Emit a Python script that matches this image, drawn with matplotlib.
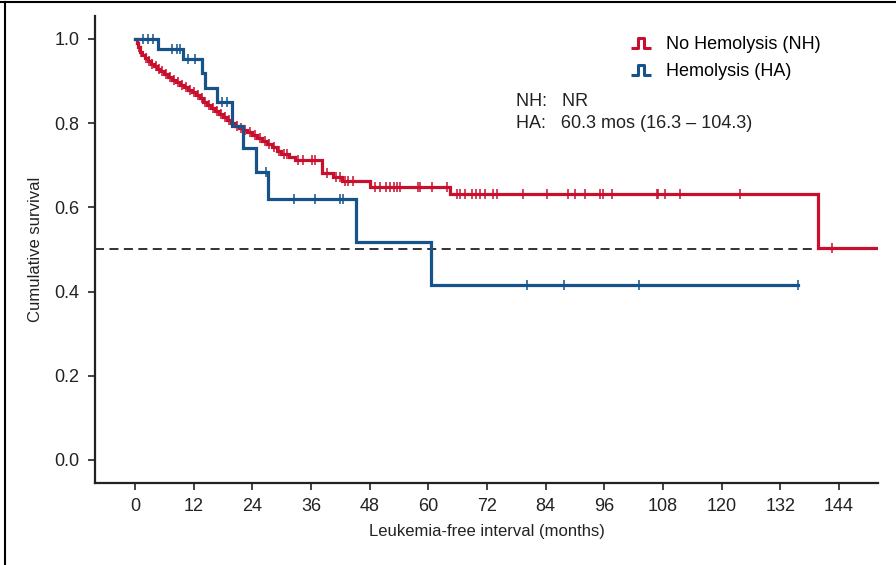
import matplotlib
matplotlib.use("Agg")
import matplotlib.pyplot as plt
from matplotlib.lines import Line2D
from matplotlib.path import Path
from matplotlib import font_manager

# --- Datos ---
# No Hemolysis (NH): tiempos de evento y supervivencia tras cada caida
nh_times = [0.3, 0.6, 1.0, 1.5, 2.0, 2.6, 3.2, 3.8, 4.5, 5.2, 6.0, 6.8, 7.6, 8.4,
            9.2, 10.0, 10.8, 11.6, 12.4, 13.2, 14.0, 14.8, 15.6, 16.4, 17.2, 18.0,
            18.8, 19.6, 20.4, 21.2, 22.0, 23.0, 24.0, 25.0, 26.0, 27.0, 28.0, 29.0,
            29.8, 31.5, 32.7, 38.2, 40.5, 42.3, 48.1, 64.4, 139.7]
nh_surv = [0.990, 0.980, 0.970, 0.962, 0.955, 0.948, 0.941, 0.935, 0.929, 0.923,
           0.917, 0.910, 0.903, 0.897, 0.891, 0.885, 0.879, 0.873, 0.866, 0.859,
           0.851, 0.843, 0.835, 0.828, 0.821, 0.814, 0.807, 0.800, 0.794, 0.789,
           0.784, 0.778, 0.771, 0.765, 0.758, 0.751, 0.744, 0.735, 0.726, 0.720,
           0.713, 0.682, 0.672, 0.663, 0.648, 0.632, 0.504]
nh_end = 152
nh_censor = [0.8, 1.3, 2.3, 2.9, 3.5, 4.2, 4.9, 5.6, 6.4, 7.2, 8.0, 8.8, 9.6, 10.4,
             11.2, 12.0, 12.8, 13.6, 14.4, 15.2, 16.0, 16.8, 17.6, 18.4, 19.2, 20.0,
             20.8, 21.6, 22.5, 23.5, 24.5, 25.5, 26.5, 27.5, 28.5, 29.4, 30.5, 31.0,
             33.4, 34.4, 36.2, 36.8, 39.2, 41.2, 41.9, 43.0, 43.6, 44.6,
             49.1, 50.1, 51.3, 52.2, 53.0, 53.5, 54.1, 57.9, 58.3, 60.7, 63.8,
             65.8, 66.5, 67.4, 68.9, 69.8, 70.6, 71.6, 73.3, 74.0, 79.4, 84.2, 88.6,
             90.0, 92.0, 95.1, 95.7, 97.5, 106.7, 107.0, 108.4, 111.5, 123.7, 142.6]

# Hemolysis (HA)
ha_times = [4.7, 9.8, 13.7, 14.3, 16.8, 19.8, 22.1, 24.7, 27.2, 45.1, 60.5]
ha_surv = [0.976, 0.952, 0.919, 0.884, 0.850, 0.794, 0.740, 0.684, 0.621, 0.518, 0.416]
ha_end = 135.6
ha_censor = [1.6, 2.7, 3.7, 7.6, 8.6, 9.2, 10.8, 12.3, 17.8, 18.8, 26.8,
             32.5, 36.8, 41.9, 42.5, 80.2, 87.7, 103.1, 135.6]

x_ticks = list(range(0, 145, 12))
y_ticks = [0.0, 0.2, 0.4, 0.6, 0.8, 1.0]

red = "#C8102E"
blue = "#15538A"

installed = {f.name for f in font_manager.fontManager.ttflist}
narrow = "Liberation Sans Narrow" if "Liberation Sans Narrow" in installed else "Liberation Sans"
plt.rcParams['font.family'] = ['Liberation Sans', 'DejaVu Sans']


def step_xy(times, surv, end):
    xs, ys = [0.0], [1.0]
    cur = 1.0
    for t, s in zip(times, surv):
        xs += [t, t]
        ys += [cur, s]
        cur = s
    xs.append(end)
    ys.append(cur)
    return xs, ys


def surv_at(times, surv, t):
    cur = 1.0
    for tt, s in zip(times, surv):
        if tt <= t:
            cur = s
    return cur


fig = plt.figure(figsize=(8.96, 5.65), dpi=100)
ax = fig.add_axes([0.106, 0.145, 0.874, 0.827])

ax.axhline(0.5, color="#222222", lw=1.3, ls=(0, (5, 3)), zorder=1)

for times, surv, end, cens, col in [(nh_times, nh_surv, nh_end, nh_censor, red),
                                     (ha_times, ha_surv, ha_end, ha_censor, blue)]:
    xs, ys = step_xy(times, surv, end)
    ax.plot(xs, ys, color=col, lw=2.3, solid_joinstyle="miter", zorder=3)
    cy = [surv_at(times, surv, c) for c in cens]
    ax.plot(cens, cy, ls="none", marker="|", ms=7, mew=1.1, color=col, zorder=3)

ax.set_xlim(-8.2, 152)
ax.set_ylim(-0.055, 1.055)
ax.set_xticks(x_ticks)
ax.set_yticks(y_ticks)
ax.set_yticklabels([f"{v:.1f}" for v in y_ticks])
ax.tick_params(direction="out", length=5, width=1.2, labelsize=13, colors="#222222", pad=6)
for side in ["top", "right"]:
    ax.spines[side].set_visible(False)
for side in ["left", "bottom"]:
    ax.spines[side].set_linewidth(1.6)
    ax.spines[side].set_color("#222222")

ax.set_xlabel("Leukemia-free interval (months)", fontsize=12, family=narrow, color="#222222", labelpad=6)
ax.set_ylabel("Cumulative survival", fontsize=12, family=narrow, color="#222222", labelpad=8)

# icono escalonado de la leyenda
step_icon = Path([(-1, -0.5), (-0.35, -0.5), (-0.35, 0.5), (0.35, 0.5), (0.35, -0.5), (1, -0.5)])
handles = [Line2D([], [], ls="none", marker=step_icon, ms=14, mew=2.2, mfc="none", mec=red),
           Line2D([], [], ls="none", marker=step_icon, ms=14, mew=2.2, mfc="none", mec=blue)]
ax.legend(handles, ["No Hemolysis (NH)", "Hemolysis (HA)"], loc="upper left",
          bbox_to_anchor=(0.683, 0.957), borderaxespad=0, borderpad=0, frameon=False,
          fontsize=13, handlelength=1.2, handletextpad=0.8, labelspacing=0.55)

fig.text(516 / 896, 1 - 101 / 565, "NH:   NR", fontsize=13, va="center", color="#222222")
fig.text(516 / 896, 1 - 124 / 565, "HA:   60.3 mos (16.3 \u2013 104.3)", fontsize=13, va="center", color="#222222")

# marco de la figura (arriba e izquierda)
fig.add_artist(Line2D([0, 1], [1 - 2 / 565, 1 - 2 / 565], color="black", lw=1.5, transform=fig.transFigure))
fig.add_artist(Line2D([5 / 896, 5 / 896], [0, 1 - 2 / 565], color="black", lw=1.5, transform=fig.transFigure))

fig.savefig("out.png", dpi=100)
